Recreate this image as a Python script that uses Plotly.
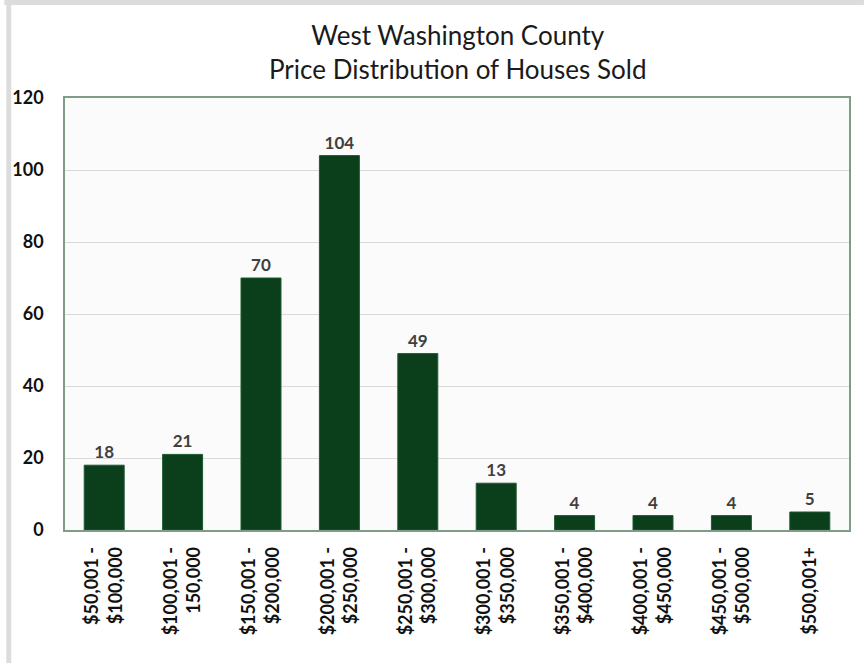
import plotly.graph_objects as go

# Price bands (two-line tick labels) and number of houses sold in each
price_bands = [
    "$50,001 -<br>$100,000",
    "$100,001 -<br>150,000",
    "$150,001 -<br>$200,000",
    "$200,001 -<br>$250,000",
    "$250,001 -<br>$300,000",
    "$300,001 -<br>$350,000",
    "$350,001 -<br>$400,000",
    "$400,001 -<br>$450,000",
    "$450,001 -<br>$500,000",
    "$500,001+",
]
houses_sold = [18, 21, 70, 104, 49, 13, 4, 4, 4, 5]
y_ticks = [0, 20, 40, 60, 80, 100, 120]
title_text = "West Washington County<br>Price Distribution of Houses Sold"

W, H = 864, 663
ML, MR, MT, MB = 61, 15, 98, 133
FONT = "Lato, 'Open Sans', sans-serif"

fig = go.Figure(
    go.Bar(
        x=price_bands,
        y=houses_sold,
        width=0.51,
        marker=dict(color="#0b3f1c", line=dict(color="#1d5a2f", width=1)),
        text=houses_sold,
        textposition="outside",
        textfont=dict(family=FONT, size=17, color="#404040", weight="bold"),
        cliponaxis=False,
    )
)

pw = W - ML - MR
ph = H - MT - MB
# light grey frame along the top and left edges of the page
frame = [
    dict(type="rect", xref="paper", yref="paper",
         x0=-ML / pw, x1=(W - ML) / pw, y0=1 + (MT - 5) / ph, y1=1 + MT / ph,
         fillcolor="#dcdcdc", line=dict(width=0), layer="below"),
    dict(type="rect", xref="paper", yref="paper",
         x0=-(ML - 2) / pw, x1=-(ML - 7) / pw, y0=-MB / ph, y1=1 + (MT - 5) / ph,
         fillcolor="#dcdcdc", line=dict(width=0), layer="below"),
]

# two-line chart title centred over the plot area
title_ann = dict(
    text=title_text, showarrow=False,
    xref="paper", x=0.5, xanchor="center",
    yref="paper", y=1 + 46 / ph, yanchor="middle",
    font=dict(family=FONT, size=26, color="#1a1a1a"),
)

fig.update_layout(
    width=W,
    height=H,
    margin=dict(l=ML, r=MR, t=MT, b=MB),
    paper_bgcolor="white",
    plot_bgcolor="#fbfbfb",
    showlegend=False,
    shapes=frame,
    annotations=[title_ann],
    xaxis=dict(
        tickangle=-90,
        tickfont=dict(family=FONT, size=18, color="#111111", weight="bold"),
        showline=True, linecolor="#7f9c88", linewidth=1.5, mirror=True,
        showgrid=False, ticks="", ticklabelstandoff=8,
    ),
    yaxis=dict(
        range=[0, 120],
        tickvals=y_ticks,
        tickfont=dict(family=FONT, size=18, color="#111111", weight="bold"),
        showline=True, linecolor="#7f9c88", linewidth=1.5, mirror=True,
        gridcolor="#dadada", gridwidth=1.2,
        zeroline=False, ticks="", ticklabelstandoff=16,
    ),
    bargap=0.49,
)

fig.write_html("out.html")
